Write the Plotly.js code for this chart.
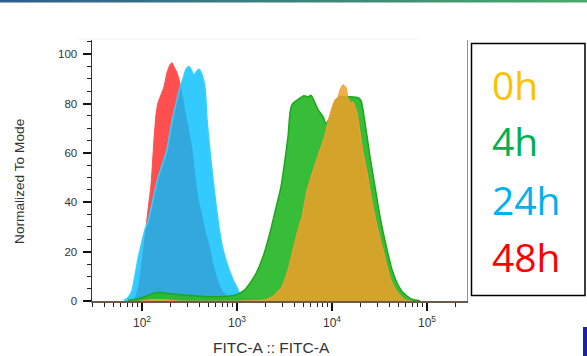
<!DOCTYPE html>
<html>
<head>
<meta charset="utf-8">
<script src="https://cdn.plot.ly/plotly-3.0.1.min.js"></script>
<style>
html,body{margin:0;padding:0;background:#fff;}
#chart{width:587px;height:356px;}
</style>
</head>
<body>
<div id="chart"></div>
<script>
// ---- data (FITC-A value, % of mode) ----
const fitc_48h = [80.4,86.5,93.0,100,107.5,115.6,124.4,133.7,140.4,147.4,158.5,170.4,183.3,197.1,207.0,217.4,233.6,251.2,263.8,283.6,304.9,335.9,361.1,388.2,428.1,472.1,520.1,558.8,615.8,662.2,712.0,784.9,885.4,1076];
const mode_48h = [0.3,2.1,6.6,15.9,25.7,37.0,47.1,65.4,75.5,80.4,83.6,86.8,92.6,95.8,96.6,95.0,92.6,88.1,83.6,76.7,70.7,61.3,50.4,41.9,34.2,26.9,20.8,14.7,9.4,5.8,3.8,2.1,0.9,0.3];

const fitc_24h = [64.6,71.2,78.5,84.4,90.8,100,107.5,115.6,130.5,147.4,166.3,183.3,197.1,211.9,233.6,251.2,270.2,290.6,312.4,327.9,352.6,370.1,398.1,428.1,460.4,483.3,520.1,558.8,601.1,646.4,712.0,803.9,907.6,1000,1075.5,1213.9,1438.5];
const mode_24h = [0.2,1.3,4.2,10.3,17.1,24.0,28.9,32.1,41.1,50.0,56.1,61.3,68.2,74.7,81.6,86.5,90.1,93.9,95.1,93.9,91.5,92.7,93.9,91.7,86.5,73.5,60.5,49.2,39.0,29.7,20.8,13.9,8.6,5.4,2.6,1.1,0.2];

const fitc_4h = [71.2,84.4,100,121.4,147.4,174.6,207.0,283.6,407.8,586.7,803.9,1024.5,1213.9,1370,1584.9,1879,2225,2573,2904,3201,3443,3615,3795,4078,4605,5070,5585,6008,6463,7120,8040,8650,9530,10500,12140,15450,18790,20200,22250,25120,28370,32010,37950,42850,48330,55880,69520,84390];
const mode_4h = [0.2,0.7,1.3,2.6,3.4,3.2,2.8,2.4,1.9,1.7,1.9,2.8,4.6,7.2,11.1,17.9,27.7,37.8,46.3,57.3,66.6,76.3,79.6,80.8,82.2,83.2,82.8,83.4,81.2,77.6,74.7,71.9,74.7,79.8,82.8,82.8,82.4,81.2,72.3,58.5,46.3,34.2,20.8,12.7,7.4,3.4,0.7,0.1];

const fitc_0h = [95.3,121.4,154.7,197.1,251.2,1076,1663,1971,2392,2976,3443,3882,4383,4832,5454,6622,7476,8441,9080,10000,10755,11570,12140,13050,14040,14730,15850,16630,18330,19710,21190,23360,25120,27020,30490,34430,38820,43830,49520,58650,69520];
const mode_0h = [0.0,0.5,0.6,0.4,0.0,0.0,0.2,0.5,1.9,5.9,12.7,20.8,28.9,34.2,44.7,55.3,61.3,67.4,72.6,78.4,81.6,82.8,85.6,87.7,86.5,82.4,80.4,80.8,76.3,68.6,60.5,52.4,45.1,38.2,28.9,20.8,12.7,6.6,3.4,0.5,0.0];

const seriesNames = ['0h','4h','24h','48h'];
const seriesColors = ['#FFC000','#00B050','#00B0F0','#FF0000'];

const xTickVals = [100,1000,10000,100000];
const xTickText = ['10<sup>2</sup>','10<sup>3</sup>','10<sup>4</sup>','10<sup>5</sup>'];
const yTickVals = [0,20,40,60,80,100];
const xTitle = 'FITC-A :: FITC-A';
const yTitle = 'Normalized To Mode';

// ---- layout helpers ----
const L=92,R=468,T=40,B=301;
const px = x => (x-L)/(R-L);
const py = y => (B-y)/(B-T);

const xMinor = [];
[10,100,1000,10000,100000].forEach(d=>{for(let k=2;k<=9;k++){const v=d*k; if(Math.log10(v)>1.47 && Math.log10(v)<5.43) xMinor.push(v);}});

const traces = [
  {x:fitc_48h,y:mode_48h,type:'scatter',mode:'lines',fill:'tozeroy',line:{color:'#ff4d4d',width:1,shape:'spline',smoothing:0.6},fillcolor:'rgba(255,60,60,0.9)',hoverinfo:'skip',showlegend:false},
  {x:fitc_24h,y:mode_24h,type:'scatter',mode:'lines',fill:'tozeroy',line:{color:'#38cfff',width:1.5,shape:'spline',smoothing:0.6},fillcolor:'rgba(0,190,255,0.8)',hoverinfo:'skip',showlegend:false},
  {x:fitc_4h,y:mode_4h,type:'scatter',mode:'lines',fill:'tozeroy',line:{color:'#1aa81a',width:1.5,shape:'spline',smoothing:0.6},fillcolor:'rgba(45,185,45,0.95)',hoverinfo:'skip',showlegend:false},
  {x:fitc_0h,y:mode_0h,type:'scatter',mode:'lines',fill:'tozeroy',line:{color:'#ff9a3a',width:1,shape:'spline',smoothing:0.6},fillcolor:'rgba(240,160,40,0.85)',hoverinfo:'skip',showlegend:false}
];

const shapes = [];
// top gradient bar
const c0=[46,95,140], c1=[74,166,107], N=24;
for(let i=0;i<N;i++){
  const t=i/(N-1);
  const c=c0.map((v,j)=>Math.round(v+(c1[j]-v)*t));
  shapes.push({type:'rect',xref:'paper',yref:'paper',x0:px(i*587/N),x1:px((i+1)*587/N+0.5),y0:py(2.5),y1:py(0),fillcolor:`rgb(${c.join(',')})`,line:{width:0},layer:'above'});
}
// faint top edge & right frame of plot
shapes.push({type:'line',xref:'paper',yref:'paper',x0:px(78),x1:px(418),y0:py(39),y1:py(39),line:{color:'#f1f1f1',width:1}});
shapes.push({type:'line',xref:'paper',yref:'paper',x0:px(467.5),x1:px(467.5),y0:py(301),y1:py(40),line:{color:'#9a8f84',width:1}});
// legend frame
shapes.push({type:'rect',xref:'paper',yref:'paper',x0:px(471.5),x1:px(585),y0:py(295.5),y1:py(43.5),line:{color:'#000',width:1.5},fillcolor:'rgba(0,0,0,0)'});
// bottom right blue block
shapes.push({type:'rect',xref:'paper',yref:'paper',x0:px(583),x1:px(588),y0:py(357),y1:py(327),line:{width:0},fillcolor:'#1c22a8'});

const legendY = [84,140,199,256];
const annotations = seriesNames.map((n,i)=>({
  text:n,xref:'paper',yref:'paper',x:px(490),y:py(legendY[i]),xanchor:'left',yanchor:'middle',showarrow:false,
  font:{family:'Open Sans',size:39,color:seriesColors[i]}
}));
annotations.push({text:yTitle,xref:'paper',yref:'paper',x:px(20),y:py(182),xanchor:'center',yanchor:'middle',textangle:-90,showarrow:false,
  font:{family:'Liberation Sans',size:13.7,color:'#333'}});
annotations.push({text:xTitle,xref:'paper',yref:'paper',x:px(271.5),y:py(347.5),xanchor:'center',yanchor:'middle',showarrow:false,
  font:{family:'Liberation Sans',size:15.5,color:'#333'}});

const layout = {
  width:587,height:356,
  margin:{l:L,r:587-R,t:T,b:356-B},
  paper_bgcolor:'#fff',plot_bgcolor:'#fff',
  showlegend:false,
  xaxis:{
    type:'log',range:[1.4737,5.4316],
    tickmode:'array',tickvals:xTickVals,ticktext:xTickText,
    ticks:'outside',ticklen:8,tickwidth:2,tickcolor:'#111',
    minor:{tickmode:'array',tickvals:xMinor,ticks:'outside',ticklen:4,tickwidth:1,tickcolor:'#222'},
    showline:true,linecolor:'#6b5a48',linewidth:1.5,
    showgrid:false,zeroline:false,
    tickfont:{family:'Liberation Sans',size:12,color:'#333'},
    ticklabelstandoff:2
  },
  yaxis:{
    range:[0,105.8],
    tickmode:'array',tickvals:yTickVals,
    ticks:'outside',ticklen:8,tickwidth:2,tickcolor:'#111',
    minor:{dtick:5,ticks:'outside',ticklen:4,tickwidth:1,tickcolor:'#222'},
    showline:true,linecolor:'#333',linewidth:1.5,
    showgrid:false,zeroline:false,
    tickfont:{family:'Liberation Sans',size:11.5,color:'#333'},
    ticklabelstandoff:3
  },
  shapes:shapes,
  annotations:annotations
};

Plotly.newPlot('chart',traces,layout,{staticPlot:true,displayModeBar:false});
</script>
</body>
</html>
